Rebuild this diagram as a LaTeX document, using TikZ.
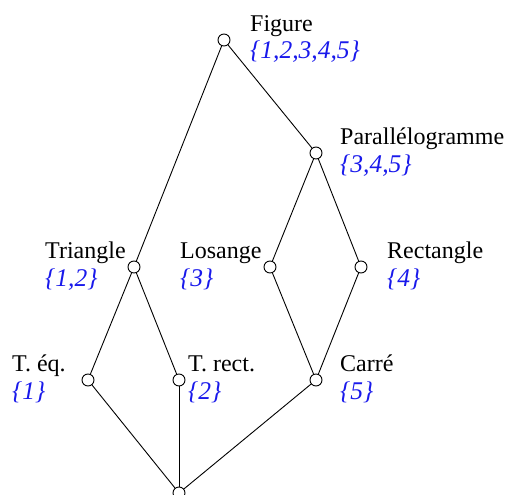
\documentclass[tikz,border=0pt]{standalone}
\usepackage{fontspec}
\setmainfont{Liberation Serif}
\definecolor{setblue}{RGB}{25,25,235}
\begin{document}
\begin{tikzpicture}[x=1pt,y=-1pt,
  vert/.style={circle,draw,line width=0.9pt,minimum size=12pt,inner sep=0pt,fill=white},
  edge/.style={line width=0.9pt},
  nm/.style={anchor=base west,inner sep=0pt,font=\fontsize{24}{28}\selectfont},
  st/.style={anchor=base west,inner sep=0pt,text=setblue,font=\fontsize{25.5}{30}\selectfont\itshape}]
\useasboundingbox (0,0) rectangle (506,495);
\node[vert] (fig) at (224,40) {};
\node[vert] (par) at (316,153) {};
\node[vert] (tri) at (134,267) {};
\node[vert] (los) at (270,267) {};
\node[vert] (rec) at (361,267) {};
\node[vert] (teq) at (88,380) {};
\node[vert] (tre) at (179,380) {};
\node[vert] (car) at (316,380) {};
\node[vert] (bot) at (179,493) {};
\draw[edge] (fig) -- (tri);
\draw[edge] (fig) -- (par);
\draw[edge] (par) -- (los);
\draw[edge] (par) -- (rec);
\draw[edge] (tri) -- (teq);
\draw[edge] (tri) -- (tre);
\draw[edge] (los) -- (car);
\draw[edge] (rec) -- (car);
\draw[edge] (teq) -- (bot);
\draw[edge] (tre) -- (bot);
\draw[edge] (car) -- (bot);
\node[nm] (lfig) at (250,32) {Figure};
\node[st] (sfig) at (250,59) {\{1,2,3,4,5\}};
\node[nm] (lpar) at (340,144) {Parallélogramme};
\node[st] (spar) at (340,172) {\{3,4,5\}};
\node[nm] (ltri) at (45,258) {Triangle};
\node[st] (stri) at (45,286) {\{1,2\}};
\node[nm] (llos) at (180,258) {Losange};
\node[st] (slos) at (180,286) {\{3\}};
\node[nm] (lrec) at (387,258) {Rectangle};
\node[st] (srec) at (387,286) {\{4\}};
\node[nm] (lteq) at (12,371) {T. éq.};
\node[st] (steq) at (12,399) {\{1\}};
\node[nm] (ltre) at (188,371) {T. rect.};
\node[st] (stre) at (188,399) {\{2\}};
\node[nm] (lcar) at (340,371) {Carré};
\node[st] (scar) at (340,399) {\{5\}};
\end{tikzpicture}
\end{document}
